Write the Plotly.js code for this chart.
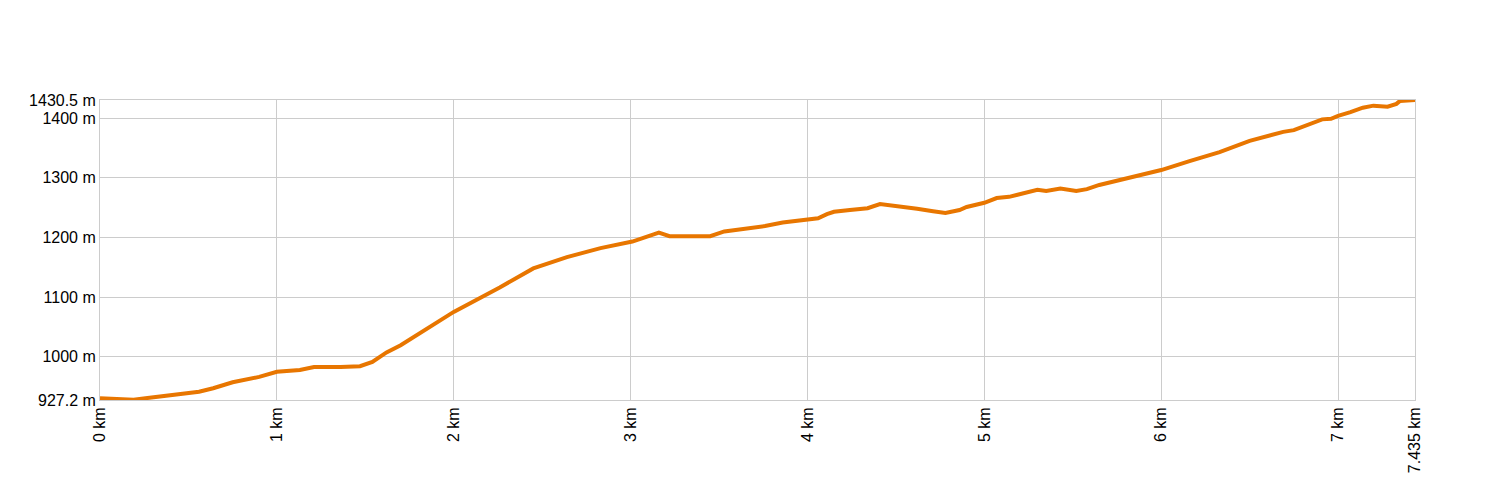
<!DOCTYPE html>
<html>
<head>
<meta charset="utf-8">
<script src="https://cdn.plot.ly/plotly-3.0.1.min.js"></script>
<style>html,body{margin:0;padding:0;background:#fff}#chart{width:1500px;height:500px}</style>
</head>
<body>
<div id="chart"></div>
<script>
const distanceKm = [0.00,0.10,0.19,0.28,0.38,0.47,0.56,0.64,0.75,0.90,1.00,1.13,1.21,1.36,1.47,1.54,1.62,1.70,1.88,2.00,2.26,2.45,2.64,2.83,3.01,3.16,3.22,3.37,3.45,3.53,3.67,3.76,3.86,4.00,4.06,4.11,4.15,4.24,4.34,4.41,4.47,4.52,4.62,4.71,4.78,4.86,4.90,5.00,5.07,5.14,5.22,5.30,5.35,5.43,5.52,5.58,5.65,5.82,6.00,6.16,6.33,6.50,6.58,6.69,6.75,6.84,6.91,6.96,7.00,7.07,7.14,7.20,7.28,7.33,7.35,7.435];
const elevationM = [930,928,927.5,931,935,938.5,941,947,957,966,974.5,977.5,982.6,982.6,984,991,1007,1019,1053,1075,1116,1148,1167,1182,1193,1208,1202,1203,1202,1210,1215,1219,1225,1229,1232,1239,1243,1246,1249,1256,1254,1253,1248,1244,1241,1246,1251,1258,1266,1268,1274,1280,1278,1282,1278,1281,1288,1300,1313,1328,1343,1362,1369,1377,1380,1390,1398,1399,1404,1410,1417.6,1421,1419.3,1424,1429,1430.5];
const xTickVals = [0,1,2,3,4,5,6,7,7.435];
const xTickText = ["0 km","1 km","2 km","3 km","4 km","5 km","6 km","7 km","7.435 km"];
const yTickVals = [927.2,1000,1100,1200,1300,1400,1430.5];
const yTickText = ["927.2 m","1000 m","1100 m","1200 m","1300 m","1400 m","1430.5 m"];

const trace = {
  x: distanceKm, y: elevationM, type: 'scatter', mode: 'lines',
  line: {color: 'rgb(232,118,0)', width: 4},
  cliponaxis: false, hoverinfo: 'skip'
};
const layout = {
  width: 1500, height: 500,
  margin: {l: 100, r: 85, t: 100, b: 100},
  paper_bgcolor: '#fff', plot_bgcolor: '#fff',
  showlegend: false,
  font: {family: 'Liberation Sans, Arial, sans-serif', size: 16, color: '#000'},
  xaxis: {
    range: [0, 7.435], tickvals: xTickVals, ticktext: xTickText,
    tickangle: -90, showgrid: true, gridcolor: '#cccccc', gridwidth: 1,
    zeroline: false, showline: true, linecolor: '#cccccc', linewidth: 1, mirror: true,
    ticks: '', ticklen: 0,
    tickfont: {size: 16, color: '#000'}
  },
  yaxis: {
    range: [927.2, 1430.5], tickvals: yTickVals, ticktext: yTickText,
    showgrid: true, gridcolor: '#cccccc', gridwidth: 1,
    zeroline: false, showline: true, linecolor: '#cccccc', linewidth: 1, mirror: true,
    ticks: '', ticklen: 0,
    tickfont: {size: 16, color: '#000'}
  }
};
Plotly.newPlot('chart', [trace], layout, {staticPlot: true, displayModeBar: false});
</script>
</body>
</html>
